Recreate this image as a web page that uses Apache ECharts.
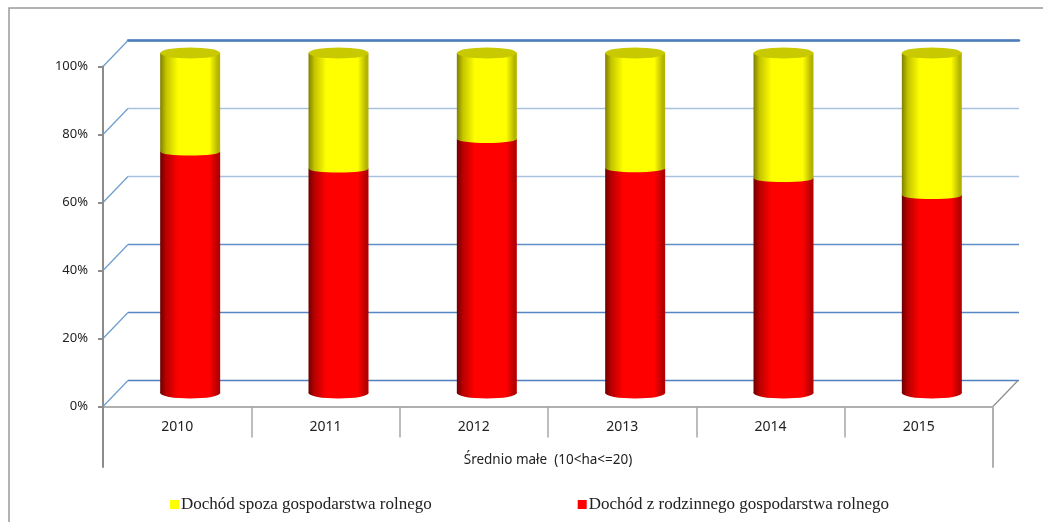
<!DOCTYPE html>
<html><head><meta charset="utf-8">
<style>html,body{margin:0;padding:0;background:#fff}#c{width:1043px;height:522px}</style>
<script src="https://cdn.jsdelivr.net/npm/echarts@6/dist/echarts.min.js"></script>
</head><body><div id="c"></div>
<script>
const years = ['2010','2011','2012','2013','2014','2015'];
const groupLabel = ['Średnio małe  (10<ha<=20)'];
const farmIncome = [71, 66, 74.7, 66.1, 63.2, 58.2];
const offFarmIncome = [29, 34, 25.3, 33.9, 36.8, 41.8];
const nameOff = 'Dochód spoza gospodarstwa rolnego';
const nameFarm = 'Dochód z rodzinnego gospodarstwa rolnego';
const levels = [0, 20, 40, 60, 80, 100];
const wallColors = ['#4f81bd', '#5588c2', '#5f8fc6', '#a9c1de', '#a9c1de', '#4a7ebb'];
const DEPTH = [25, -26];

const grad = (a, b, c, d) => ({type:'linear',x:0,y:0,x2:1,y2:0,colorStops:[
  {offset:0,color:a},{offset:.1,color:b},{offset:.3,color:c},{offset:.82,color:c},{offset:.96,color:d},{offset:1,color:d}]});
const redFill = grad('#6e0000','#b80000','#ff0000','#b40000');
const yellowFill = grad('#7f7f00','#c4c400','#ffff00','#b4b400');
const totals = farmIncome.map((v,i)=>v+offFarmIncome[i]);

const option = {
  animation:false,
  textStyle:{fontFamily:'"Noto Sans"'},
  graphic:[{type:'rect',silent:true,shape:{x:9,y:8,width:1100,height:600},style:{fill:'none',stroke:'#9a9a9a',lineWidth:1.5},z:-10}],
  legend:{
    left:165, top:491, itemWidth:9, itemHeight:9, itemGap:146, icon:'rect',
    textStyle:{fontFamily:'"Liberation Serif"',fontSize:17,color:'#222',padding:[0,0,0,-3]},
    data:[{name:nameOff,itemStyle:{color:'#ffff00'}},{name:nameFarm,itemStyle:{color:'#ff0000'}}]
  },
  grid:[
    {left:103,right:50,top:66.5,height:340},       // front plane: axes
    {left:128,right:24,top:40,height:340.5},       // back wall: gridlines
    {left:116,right:37,top:53,height:340},         // mid depth: bars
    {left:103,right:50,top:406.5,height:60.5}      // group label band
  ],
  xAxis:[
    {gridIndex:0,type:'category',data:years,
     axisLine:{lineStyle:{color:'#b0b0b0',width:2}},
     axisTick:{show:true,length:31,lineStyle:{color:'#a8a8a8',width:1.5}},
     axisLabel:{color:'#222',fontSize:14,margin:14},z:3},
    {gridIndex:1,type:'category',data:years,position:'top',
     axisLine:{onZero:false,lineStyle:{color:'#4a7ebb',width:2.5}},axisTick:{show:false},axisLabel:{show:false}},
    {gridIndex:2,type:'category',data:years,show:false},
    {gridIndex:3,type:'category',data:groupLabel,
     axisLine:{show:false},axisTick:{show:false},
     axisLabel:{color:'#222',fontSize:13.5,margin:-14}}
  ],
  yAxis:[
    {gridIndex:0,type:'value',min:0,max:100,interval:20,
     axisLine:{show:true,lineStyle:{color:'#8c8c8c',width:2}},
     axisTick:{show:true,length:5,lineStyle:{color:'#8c8c8c',width:2}},
     axisLabel:{color:'#222',fontSize:13,margin:15,formatter:'{value}%'},splitLine:{show:false},z:3},
    {gridIndex:1,type:'value',min:0,max:100,interval:20,
     axisLine:{show:false},axisTick:{show:false},axisLabel:{show:false},
     splitLine:{show:true,lineStyle:{color:wallColors,width:1.4}}},
    {gridIndex:2,type:'value',min:0,max:100,interval:20,show:false,splitLine:{show:false}},
    {gridIndex:3,type:'value',min:0,max:1,position:'left',z:6,
     axisLine:{show:true,lineStyle:{color:'#8c8c8c',width:2}},axisTick:{show:false},axisLabel:{show:false},splitLine:{show:false}},
    {gridIndex:3,type:'value',min:0,max:1,position:'right',z:6,
     axisLine:{show:true,lineStyle:{color:'#b0b0b0',width:2}},axisTick:{show:false},axisLabel:{show:false},splitLine:{show:false}}
  ],
  series:[
    // depth lines joining the front axis to the back wall
    {type:'custom',xAxisIndex:0,yAxisIndex:0,clip:false,silent:true,z:1,
     data:levels.map(v=>[0,v]),
     renderItem(params,api){
       const p=api.coord([0,api.value(1)]), half=api.size([1,0])[0]/2, x=p[0]-half;
       return {type:'line',shape:{x1:x,y1:p[1],x2:x+DEPTH[0],y2:p[1]+DEPTH[1]},style:{stroke:'#6b9ace',lineWidth:1.2}};
     }},
    {type:'custom',xAxisIndex:0,yAxisIndex:0,clip:false,silent:true,z:1,
     data:[[years.length-1,0]],
     renderItem(params,api){
       const p=api.coord([api.value(0),0]), half=api.size([1,0])[0]/2, x=p[0]+half;
       return {type:'line',shape:{x1:x,y1:p[1],x2:x+DEPTH[0],y2:p[1]+DEPTH[1]},style:{stroke:'#8c8c8c',lineWidth:1.2}};
     }},
    {name:nameFarm,type:'bar',stack:'s',xAxisIndex:2,yAxisIndex:2,barWidth:60,data:farmIncome,itemStyle:{color:redFill},z:4},
    {name:nameOff,type:'bar',stack:'s',xAxisIndex:2,yAxisIndex:2,barWidth:60,data:offFarmIncome,itemStyle:{color:yellowFill},z:4},
    {type:'scatter',xAxisIndex:2,yAxisIndex:2,clip:false,silent:true,symbol:'circle',symbolSize:[60,11],z:5,
     data:years.map(y=>[y,0]),itemStyle:{color:redFill,opacity:1}},
    {type:'scatter',xAxisIndex:2,yAxisIndex:2,clip:false,silent:true,symbol:'circle',symbolSize:[60,8],z:5,
     data:years.map((y,i)=>[y,farmIncome[i]]),itemStyle:{color:yellowFill,opacity:1}},
    {type:'scatter',xAxisIndex:2,yAxisIndex:2,clip:false,silent:true,symbol:'circle',symbolSize:[60,11],z:6,
     data:years.map((y,i)=>[y,totals[i]]),itemStyle:{color:'#c9c900',opacity:1}}
  ]
};
echarts.init(document.getElementById('c'),null,{renderer:'canvas'}).setOption(option);
</script></body></html>
